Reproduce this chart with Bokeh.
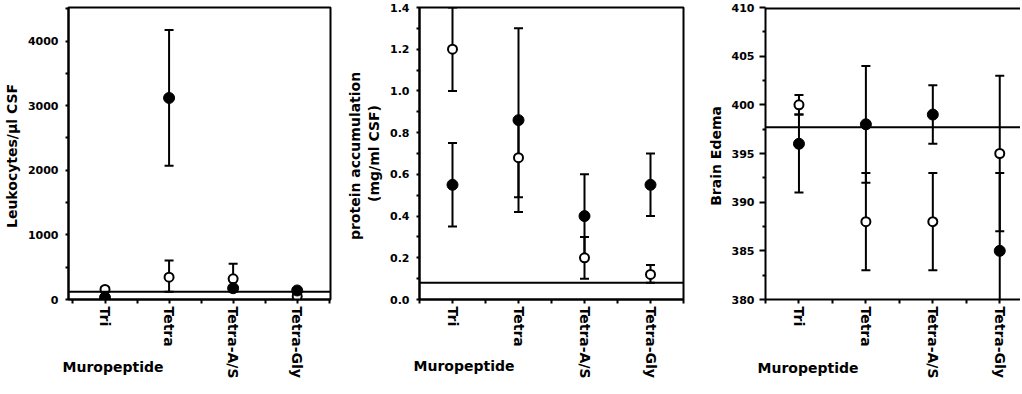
from bokeh.plotting import figure
from bokeh.layouts import row
from bokeh.models import ColumnDataSource, FixedTicker, Span, Range1d, NumeralTickFormatter, Title
from bokeh.embed import file_html
from bokeh.resources import INLINE

categories = ["Tri", "Tetra", "Tetra-A/S", "Tetra-Gly"]
xpos = [1, 2, 3, 4]
x_minor = [0.5, 1.5, 2.5, 3.5, 4.5]

# Panel 1: Leukocytes / ul CSF
leuko_filled = [30, 3120, 175, 140]
leuko_filled_lo = [0, 2070, 140, 110]
leuko_filled_hi = [60, 4170, 200, 170]
leuko_open = [155, 345, 320, 50]
leuko_open_lo = [120, 120, 120, 20]
leuko_open_hi = [190, 605, 555, 90]
leuko_baseline = 120
leuko_ticks = [0, 1000, 2000, 3000, 4000]
leuko_minor = [500, 1500, 2500, 3500, 4500]

# Panel 2: protein accumulation (mg/ml CSF)
protein_filled = [0.55, 0.86, 0.40, 0.55]
protein_filled_lo = [0.35, 0.42, 0.20, 0.40]
protein_filled_hi = [0.75, 1.30, 0.60, 0.70]
protein_open = [1.20, 0.68, 0.20, 0.12]
protein_open_lo = [1.00, 0.49, 0.10, 0.08]
protein_open_hi = [1.40, 0.86, 0.30, 0.165]
protein_baseline = 0.08
protein_ticks = [0.0, 0.2, 0.4, 0.6, 0.8, 1.0, 1.2, 1.4]
protein_minor = [0.1, 0.3, 0.5, 0.7, 0.9, 1.1, 1.3]

# Panel 3: Brain Edema
edema_filled = [396, 398, 399, 385]
edema_filled_lo = [391, 392, 396, 377]
edema_filled_hi = [399, 404, 402, 393]
edema_open = [400, 388, 388, 395]
edema_open_lo = [399, 383, 383, 387]
edema_open_hi = [401, 393, 393, 403]
edema_baseline = 397.7
edema_ticks = [380, 385, 390, 395, 400, 405, 410]
edema_minor = [382.5, 387.5, 392.5, 397.5, 402.5, 407.5]

x_title = "Muropeptide"
FONT = "DejaVu Sans"


def make_panel(ylabel, yrange, yticks, yminor, xrange, filled, flo, fhi, opn, olo, ohi, base,
               left, fwidth, right, outline=True, fmt=None, tick_out=3, lab_standoff=7,
               xt_offset=-6, xt_standoff=-40):
    p = figure(frame_width=fwidth, frame_height=292, output_backend="svg", toolbar_location=None,
               x_range=Range1d(*xrange), y_range=Range1d(*yrange),
               min_border_left=left, min_border_right=right, min_border_top=7, min_border_bottom=79)
    p.xgrid.visible = False
    p.ygrid.visible = False
    p.background_fill_color = "white"
    p.border_fill_color = "white"
    if outline:
        p.outline_line_color = "black"
        p.outline_line_width = 2
        p.outline_line_alpha = 1
    else:
        p.outline_line_color = None
        p.add_layout(Span(location=yrange[1], dimension="width", line_color="black", line_width=4))

    for ax in (p.xaxis, p.yaxis):
        ax.axis_line_width = 2
        ax.axis_line_color = "black"
        ax.major_tick_line_width = 2
        ax.minor_tick_line_width = 2
        ax.major_label_text_font = FONT
        ax.major_label_text_font_style = "bold"
        ax.major_label_text_color = "black"
        ax.axis_label_text_font = FONT
        ax.axis_label_text_font_style = "bold"
        ax.axis_label_text_color = "black"

    p.xaxis.ticker = FixedTicker(ticks=xpos, minor_ticks=x_minor)
    p.xaxis.major_label_overrides = {x: c for x, c in zip(xpos, categories)}
    p.xaxis.major_label_orientation = "vertical"
    p.xaxis.major_label_text_font_size = "14px"
    p.xaxis.major_tick_out = 4
    p.xaxis.major_tick_in = 0
    p.xaxis.minor_tick_out = 4
    p.xaxis.minor_tick_in = 0
    p.xaxis.major_label_standoff = 3

    # x title, left-aligned near the frame's left edge, tucked up beside the tick labels
    p.add_layout(Title(text=x_title, align="left", offset=xt_offset, standoff=xt_standoff,
                       vertical_align="top", text_font=FONT, text_font_style="bold",
                       text_font_size="14px", text_color="black"), "below")

    p.yaxis.ticker = FixedTicker(ticks=yticks, minor_ticks=yminor)
    p.yaxis.major_label_text_font_size = "11px"
    p.yaxis.major_tick_out = tick_out
    p.yaxis.major_tick_in = 0
    p.yaxis.minor_tick_out = 3
    p.yaxis.minor_tick_in = 0
    p.yaxis.major_label_standoff = lab_standoff
    if fmt:
        p.yaxis.formatter = fmt
    p.yaxis.axis_label = ylabel
    p.yaxis.axis_label_text_font_size = "14px"
    p.yaxis.axis_label_standoff = 5

    src = ColumnDataSource(dict(x=xpos, f=filled, flo=flo, fhi=fhi, o=opn, olo=olo, ohi=ohi))
    # error bars
    p.segment(x0="x", y0="flo", x1="x", y1="fhi", source=src, line_color="black", line_width=2)
    p.segment(x0="x", y0="olo", x1="x", y1="ohi", source=src, line_color="black", line_width=2)
    for col in ("flo", "fhi", "olo", "ohi"):
        p.scatter(x="x", y=col, source=src, marker="dash", size=9, line_color="black", line_width=2)
    p.add_layout(Span(location=base, dimension="width", line_color="black", line_width=2))
    p.scatter(x="x", y="o", source=src, size=9, fill_color="white", line_color="black", line_width=2)
    p.scatter(x="x", y="f", source=src, size=11, fill_color="black", line_color="black", line_width=1)
    return p


p1 = make_panel("Leukocytes/µl  CSF", (0, 4520), leuko_ticks, leuko_minor, (0.43, 4.52),
                leuko_filled, leuko_filled_lo, leuko_filled_hi, leuko_open, leuko_open_lo,
                leuko_open_hi, leuko_baseline, left=60, fwidth=262, right=10,
                xt_offset=-6, xt_standoff=-45)
p2 = make_panel("protein  accumulation\n(mg/ml CSF)", (0, 1.4), protein_ticks, protein_minor,
                (0.5, 4.5), protein_filled, protein_filled_lo, protein_filled_hi, protein_open,
                protein_open_lo, protein_open_hi, protein_baseline, left=79, fwidth=264, right=14,
                fmt=NumeralTickFormatter(format="0.0"), xt_offset=-6, xt_standoff=-47)
p3 = make_panel("Brain  Edema", (380, 410), edema_ticks, edema_minor, (0.5, 4.31),
                edema_filled, edema_filled_lo, edema_filled_hi, edema_open, edema_open_lo,
                edema_open_hi, edema_baseline, left=68, fwidth=255, right=0, outline=False,
                tick_out=6, lab_standoff=5, xt_offset=-8, xt_standoff=-44)

layout = row(p1, p2, p3)
open("out.html", "w").write(file_html(layout, INLINE))
